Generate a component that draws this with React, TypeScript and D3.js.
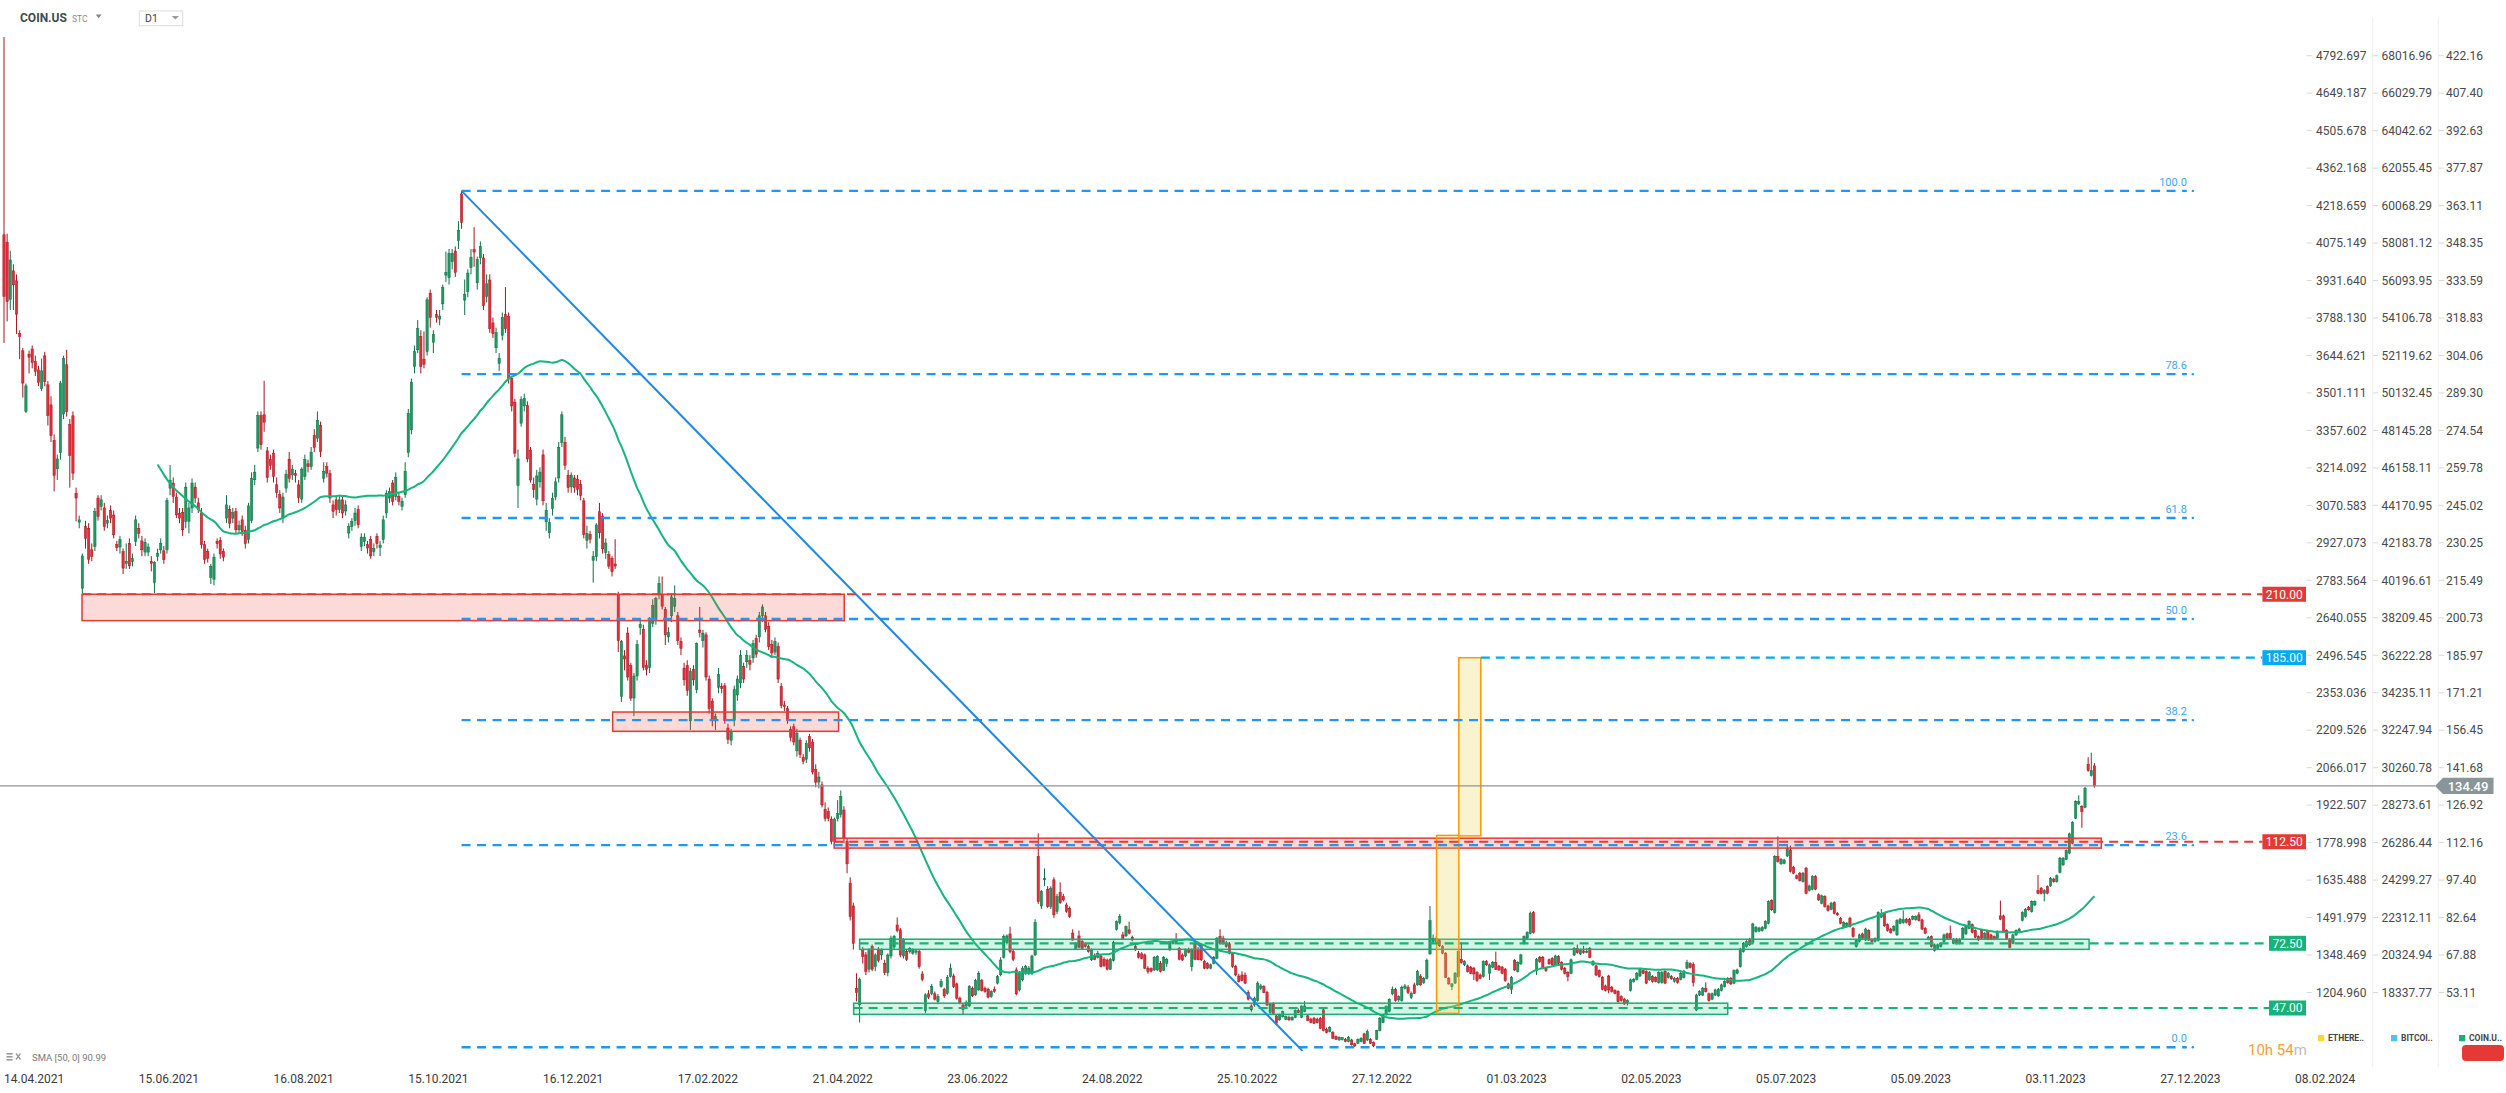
import React from 'react';
import * as d3 from 'd3';

const W = 2506;
const H = 1093;

// [open, high, low, close] daily candles, COIN.US D1
const candles: [number, number, number, number][] = [
[351.6,429.5,309,327.3],[348.7,352,317.5,325.3],[326.2,345.3,322,341.7],[337.4,340,322,331.9],[333.5,336,312.5,320.3],[312.7,314,302.6,311.5],[305.9,307,287.5,293.2],[282,293,281.4,292.1],[304.6,306,297,303.4],[306.6,308,299,301.3],
[301.6,304,296,297.8],[298.4,300,292,293.5],[291,302.8,290,298],[303.9,305.5,292,293.8],[292.5,294,276.5,280.4],[284.6,288,270,272.5],[270.6,273,250.5,256.8],[259.4,265,255,263.3],[265.8,294,263,293.2],[281,304,279,303],
[300.4,306.3,280,282],[276.8,279,252,264.7],[280.3,282,255,257.7],[249.8,252,238.7,247.9],[238.4,241,236,239.3],[212.4,226,210.4,225.1],[236.7,238.9,228,232],[236,238,222,223.8],[227.5,230,223,224.9],[228.8,244,227,242.6],
[247.9,249,239,240.6],[244.6,249,243,247.2],[244,246,235,236.7],[238,241,236,239],[243,245,238,240],[241.2,243,232,233.4],[229.5,231,227,228.4],[228.6,233,226,231.5],[226.8,228,218,220.3],[222.2,230,220,222.9],
[230.1,232,220,221.2],[222.9,226,221,224],[230.8,241,229,239.3],[236,238,232,234],[231,233,225,227.5],[226.6,232,225,230.4],[226.6,230,225,228.6],[222.9,225,219,222.2],[214.6,223,210.4,222.6],[224.9,228,223,226.2],
[227.5,232,226,230.1],[227.1,229,222,223.6],[227.5,248,226,247],[251.8,260.9,249,254.8],[253.8,256,246,248.5],[248.3,250,240,241.3],[241.9,244,238,240],[242.2,244,233,235.4],[238.7,254,236,252.2],[238.7,246,234,244],
[244,255.6,242,253.8],[252.2,254,246,247.9],[246,248,242,243.5],[242,244,228,229.5],[229.5,231,222,223.6],[226.8,228,222.5,224.2],[216.6,222,214,221],[215.9,226,213.5,224.6],[230.8,232,228,229.9],[231.2,232.5,224,225.9],
[226.8,228,223,224.6],[240,249,238,245.2],[243.3,245,236,238],[240,244,238,242.2],[242.6,244,234,235.4],[235.4,239,234,237],[239.3,241,233,234.7],[235.1,237,228,229.9],[231.5,246,230,244.8],[239,258,238,255.7],
[255.1,261,253,258.1],[267.6,282,266,280.4],[280.4,282,267,268.9],[280.7,294.1,274,277.8],[266.5,268,254,256],[263,265,259,260.8],[265.6,267,254,256.4],[253.1,256,248,250.1],[249.2,251,242,244],[240,250,238,248.3],
[251.8,259,250,257.3],[263.2,266,254,255.7],[257,261,255,259.3],[257.5,259,254,256.8],[253.1,255,246,248.2],[247.5,260,246,259.3],[256.4,265,255,263],[261.4,263,258,260.3],[260.3,268,259,266],[272.5,275,266,267.8],
[271.5,282,270,278.5],[276.6,278,264,266.2],[255.7,262,254,258.4],[260.3,262,256,257.7],[257.5,259,246,247.9],[245.2,247,240,242.6],[247.2,249,241,243.3],[243.3,249,242,247.2],[247.2,249,240,242],[242.8,247,241,245.2],
[234.1,238,232,236.7],[236.7,240,235,238.7],[239,244,237,242],[243.3,245,236,237.4],[228.8,234,227,232.5],[230.8,234,229,232.5],[229.5,231,226,228.2],[231.5,233,224,225.1],[226.8,230,225,228],[232.8,234,228,229.9],
[228.4,231,225,229.4],[231.5,241,230,239.3],[242,251,240,249.8],[247.9,252,246,250.5],[253.8,255,245,246.6],[248.5,258,247,256.1],[248.5,250,245,246.6],[244.6,248,243,246.6],[249.2,262,248,258.4],[265.8,283,264,281.3],
[274.8,295,273,293.6],[299.7,308,297,305.6],[306.3,318,305,314.6],[311.5,314,297,299.7],[302.6,313.5,299,300.6],[305.6,327,304,326],
[328.6,330,315,319.1],[309.3,314,305,312.4],[320.2,322,317,319.1],[318.4,322,316,319.6],[324.4,332,322,330.8],[335.7,345,333,336.8],[334.7,346,332,344.3],[341,346,338,344.3],[345.2,347,335,336.8],[349.3,357,346,353.4],
[367.7,368.9,354,356.4],[325.9,334,320,328.2],[329.2,338,327,336.5],[338.7,346,336,342.8],[345.8,354.6,339,344.8],[332.7,343,330,341.8],[342.5,349,340,347],[342.5,344,322,323.7],[327.4,336,325,332.3],[333.8,336,313,314.6],
[316.9,319,311,312.7],[307.1,315,305,313.1],[301,305,298,303],[312,321,310,319.1],[320.2,331,313,314.6],[319.6,321,293,295],[295,296,282,284.2],[285.7,287,264,265.6],[252.8,267,244,263.3],[277.4,288,276,286.7],
[284.2,289,282,287.2],[284.4,286,262,263.3],[266.8,268,254,255],[253.2,256,248,251.3],[247.5,259,245,256.6],[254.3,260,252,258.1],[264.9,267,245,246.8],[238.5,246,235,243],[234.2,240,232,238.2],[243.7,250,241,247.8],
[248.3,256,247,254.3],[255.8,270,254,267.9],[269.8,282,268,280.7],[269.8,272,259,260.8],[256.9,259,250,252],[252.3,258,250,256.9],[255.8,257,250,252],[255.4,257,249,251.3],[253.2,255,247,249],[246.8,248,232,233.6],
[231.2,237,228,233.9],[233.6,235,230,231.7],[223.4,227,214.6,224.9],[224.9,238,223,237.3],[242.5,246,232,234.2],[240.7,242,226,227.9],[226.4,232,224,230.2],[225.6,227,220,221.1],[224.1,225,217,218.9],[221.9,231.7,220,221.1],
[209.8,211,187.2,191.7],[169.8,192,167.5,191.4],[185.7,188,180,184.5],[194.7,197,176,177.4],[181.9,183,168,169.1],[169.1,179,162,177.8],[177.8,192,176,190.2],[196.9,199.5,194,198],[196.2,198,180,181.2],[181.9,184,178,180.4],
[181.2,201,179,200],[198.5,208,197,205.6],[200,209,198,208.3],[209.8,217,208,214.3],[209.8,217,204,205.3],[204.1,205,190,194],[193.2,197,191,195],[201.5,210,199,209],[205.3,213.5,203,208.3],[201.5,203,190,191.7],
[191.4,193,186,188.7],[180.9,183,174,176.3],[181.9,184,170,172.1],[160.1,181,156.5,179.7],[180.4,182,174,176.3],[172.4,191,171,190.5],[195.9,205,193,195],[191.7,196,189,194.7],[194,195,176,177.4],[176.6,178,163,164.9],
[167.9,169,158,160.3],[160.1,163,156.5,161.8],[173.3,181,171,178.4],[173.6,175,171,172.9],[173.9,175,159,160.3],[157.3,159,151,152.8],[152.5,157,150.5,155.8],[160.3,174,158,172.4],[170.3,178,168,176.6],[175.1,188,173,186],
[181.5,183,175,176.6],[183.4,188,181,186],[183.9,186,180,182.4],[184.9,192,183,190.5],[192.5,194,185,186.4],[193.2,203,191,201.5],[201.5,206,199,205],[201.5,203,195,196.2],[197.4,199,188,189.4],[190.2,192,185,186.9],
[187.2,193,186,191.4],[189.4,191,175,176.6],[173.6,175,165,166.1],[166.4,168,164,165.8],[164.9,166,159,160.3],[156.7,158,152,153.7],[157.8,159,150.5,151.8],[148.3,157,146,155.2],[152.5,153.5,145.5,146.8],[145.7,147,143,144.2],
[145,152.5,143.5,151.3],[154,155,148,149.5],[151.8,153,139,140],[141,143,134,136],[136,140,133.5,138],
[134.9,136.2,126,127],[125.3,128,120.5,121.7],[124.4,126,120.5,121.7],[121.4,122.5,111.5,112.6],[112.6,122,111.5,121.4],[121.7,128.9,120.5,123.6],[123.3,132.7,122,130.3],[125,126.5,112,113.9],[112.6,114,100.1,103.8],
[96.2,98.5,81.5,83],[87.2,88.5,70,72.5],[54.8,60.7,49.6,53.1],[48.2,59,41.3,58.3],[69.6,71,64.5,67.3],[67.9,69,60,61.4],[62.3,70.5,61,69.6],[71.2,72,61.5,62.3],[63.3,68.5,61.5,67.9],[69.9,71,65,65.7],
[67.9,70.5,66,69.9],[64.6,66,60,61],[61,68.5,59.5,67.9],[67.5,75.5,66.5,74.5],[71,75.8,70,75.2],[79.7,82.7,76.8,77.5],[77.8,78.5,67,67.9],[67.5,74.5,66.5,73.8],[69.2,70,65.5,66.2],[69.2,71,68.5,70.5],
[68.6,70.5,68,69.9],[69,70,68,69.5],[69.2,70,62.5,63.3],[60.4,61.5,57.5,58.3],[46,52.8,45,52.2],[52.6,54,50.5,51.3],[52.8,56.5,52,55.5],[52.6,53.5,50,50.5],[49.5,52.5,48.5,51.5],[55.5,58.5,55,57.4],
[54.4,55,51,51.8],[52.8,60,52.2,59.1],[59.4,64.5,59,62.7],[59.6,60.5,54.8,55.5],[56.5,57,50.3,50.9],[50.9,51.5,48.5,49.1],[48.2,49,44.3,46.5],[47.8,50,47,49.1],[47.8,56,47.3,55.5],[54.8,55.5,51.3,51.8],
[52.2,58.5,51.8,57.8],[54.1,61.5,53.8,60.7],[57.8,58.5,53.5,53.9],[54.8,55.5,53,53.5],[54.4,55,50.8,51.3],[51.5,54,51,53.5],[54.4,55.5,53,53.5],[56.8,60,56.3,59.4],[60.1,67,59.5,65.9],[67,76,66.5,75.2],
[72.8,76,72,75.4],[76.2,79,68.5,69.2],[69.2,70,65.5,66.2],[62,63,52,52.6],[54.1,61.5,53.5,61],[58.1,63.5,57.5,62.7],[60.7,64,60,63.3],[60.7,63.5,60,62.7],[60.7,68,60,67.5],[67.9,82,67.5,80.7],
[106.7,115.8,88,88.9],[87.2,93.5,86,92.9],[97.5,102,95,98.1],[93.8,95,86.5,87],[87,95,86,94.2],[97.5,98.5,82.5,83.7],[85,92,84,90.9],[92.5,96.5,88,88.5],[90.9,92,89,89.6],[87.6,88.5,84.5,85],
[86.3,87,82.5,83],[76.5,78,73.5,73.8],[70.5,73,70,72.3],[75.4,77.5,70.5,71],[73.2,74,70,70.5],[72.3,73,70.8,71.2],[71.2,72,68.8,69.2],[66,70.5,65.5,69.9],[67.5,68.5,65.8,66.2],[67,69.5,66.5,68.6],
[67.5,68,63,63.3],[66.2,67,63.2,63.6],[65.9,66.5,61.8,62.3],[62.3,66.8,62,66.2],[65.7,73.5,65.3,72.8],[78,81.5,77.5,81],[80.7,84,80,83],[75.8,77,74,74.5],[75.4,79.5,75,79.1],[77.8,81,76,76.5],
[74.9,75.5,73.3,73.8],[71.2,72,69.5,69.9],[68.6,69.5,66.5,67],[68.3,69,66.2,66.6],[67.9,68.5,62.3,62.7],[62.7,63.5,60.5,61.4],[62.5,63,61,61.5],[62,67.5,61.5,67],[62,67.8,61.5,67.3],[64.6,65.5,61,61.4],
[61.9,67.5,61.5,67],[64.6,66.8,63.2,66.2],[69.9,73.5,69.5,73.2],[72.5,73.7,72,73.2],[73.8,76.5,72.5,72.8],[70.5,71,65.8,66.2],[67.9,68.5,65.5,65.9],[67.5,70.5,67,70.2],[70,70.8,68.5,69],[63.3,70.5,61.5,69.9],
[72.3,73,65.8,66.2],[70,71,65.8,66],[71.9,72.5,65.5,66],[65.3,66,62.3,62.7],[64.5,65,62.3,62.7],[62.7,64.5,62.3,64],[64.6,67.5,64.2,67],[66.6,75,66.2,74.5],[75.2,78,72,72.5],[74.5,75.5,72,72.3],
[72.3,73.5,70.8,71.2],[72.3,73,68.2,68.6],[68.6,69,62.8,63.3],[63.3,64,59.5,60],[59.6,60.5,57,57.4],[60,61.5,57.5,57.8],[60,61,56.4,56.8],[53.1,54,50,50.5],[47.8,48.5,45.5,46.3],[48.2,51.5,47.5,50.9],
[50,57.5,49.5,56.8],[54.8,56.5,54,55.7],
[55.4,56,52.8,53.1],[53.1,53.8,47.8,48.2],[45.2,49,44.8,48.6],[48.6,49.3,44.5,44.9],[43.9,44.5,40.7,41],[42.3,44.8,42,44.3],[43.6,46,43.2,45.6],[42.6,44,42.2,43.6],
[43.3,44,42,42.3],[42.3,43.8,42,43.3],[43.3,46.5,43,46],[46,46.8,45,45.2],[43.3,48,43,47.8],[45.6,49.8,45.3,47.8],[43.9,44.5,41.8,42.1],[42.6,43.2,41,41.3],[43,43.5,40.7,41],[42.6,43.2,41,41.3],
[43,43.5,38.7,39],[46.3,47,37.8,38.1],[38.6,39.3,37,37.3],[37.7,39.8,37.4,39.4],[37.3,37.8,34.8,35.1],[35.7,36.2,34.4,34.7],[34.4,35.8,34.1,35.5],[34.5,35.6,34.2,35.3],[34.7,35.2,33.5,33.8],[33.8,36,33.5,35.5],
[34.4,34.9,32.2,32.5],[32.9,33.3,31.6,32.1],[33.1,35,32.8,34.7],[33.8,35.5,33.5,35.1],[36.8,37.2,32.8,33.1],[34.4,38.5,34,37.7],[34.7,35.2,32.8,33.1],[33.4,33.8,31.55,32.1],[34.7,38.4,34.4,38.1],[38.1,43.4,37.8,43],
[41.3,44.7,41,44.3],[44.3,48,44,47.6],[45.6,50.8,45.3,50.5],[52.6,55.5,52,54.4],[54.4,55,49.5,49.9],[50.2,52,49.5,51.5],[49.9,55.8,49.5,55.2],[54.8,56.5,54.3,55.7],[55.2,56,52.5,53.1],[51.2,53.5,50.5,52.8],
[56.1,57,52.5,52.8],[56.1,62,55.8,61.4],[59.6,60.3,55.8,56.1],[57,59.3,56.5,58.7],[58.7,66.5,58.3,65.7],[68.3,87.2,68,81.4],[73.2,76,72.5,74.5],[73,75.2,72.5,74.5],[73.6,74.2,71,71.5],[71.2,71.8,68.2,68.6],
[68.6,69,58.8,59.1],[58.7,59.2,56.2,56.5],[55.4,56.8,54,56.5],[56.8,61.2,56.5,60.7],[59.4,69.6,59,69.2],[66.2,73,64.5,64.9],[64,65.8,63.5,65.3],[63.6,64.2,61,61.4],[63.1,63.6,60.3,60.7],[62.7,63.2,58,60.4],
[61,61.5,57.3,57.8],[60,60.6,58.3,58.7],[59.4,65.8,59,65.3],[65.3,65.9,63.6,64],[60.7,64.5,58,64],[63.1,65.5,62.7,64.9],[64.9,69.2,62,62.3],[63.5,64,61.6,62],[63.1,63.6,60.3,60.7],[62.3,62.8,57.3,57.8],
[56.5,57,54.4,54.8],[54.4,59.6,52.5,59.1],[65.7,66.3,61.6,62],[61.4,65.4,61,64.9],[64.4,68.4,64,67.9],[72.5,75.6,72,75.1],[74.5,77.2,74,76.7],[76.4,85,76,84.3],[84.6,85.2,76.3,76.7],[61.7,66.7,60,66.2],
[67,67.5,64.8,65.3],[67,67.5,62.2,62.7],[62.7,63.2,61.2,61.7],[66,66.5,64,64.4],[66.6,67,63.5,64],[64,68,63.5,67.5],[67.3,67.8,64.2,64.6],[64.9,65.4,61.8,62.3],[62.7,63.2,60.2,60.7],[61,61.5,57.5,59.4],
[60.7,66.5,60.3,66],[67.9,71,67.5,70.5],[70.5,72,68.4,68.8],[68.3,70.4,67.9,69.9],[69.5,71.5,68.4,68.8],[69,70.6,68.6,69.3],[70.5,71,66.6,67],[64,65.8,63.6,65.3],[63.6,64.1,59.6,60],[61.7,62.2,59,59.4],
[59.1,59.6,54,54.4],[55.7,56.2,53.5,53.9],[59.6,60.1,52.8,54.1],[55.2,55.7,53.1,53.5],[53.9,54.4,52.4,52.8],[53.5,54,49.1,49.5],[51.5,52,49.5,49.9],[50.5,51,48.2,48.6],[49.1,50.4,48,49.9],[53.9,58.6,53.5,58.1],
[57.4,58.8,57,58.3],[58.3,61.2,57.9,60.7],[59.6,62.8,59.2,62.3],[61.7,62.2,60.3,60.7],[61.4,61.9,56.4,56.8],[58.1,61.5,57.7,61],[59.4,59.9,57,57.4],[59,59.5,57.1,57.5],[57,61.5,56.6,61],[57,61.5,56.6,61],
[61.4,61.9,56.4,56.8],[59,61.2,58.6,60.7],[59.5,60,58.1,58.5],[57.4,59.2,57,58.7],[58.7,59.2,56.6,57],[58.3,61.2,57.9,60.7],[59,62,58.6,61.5],[62.7,66,62.3,64.9],[64.5,65,62.6,63],[64.2,65,55.5,57],
[46.2,52.6,45.8,52.1],[52.1,54,51.7,53.5],[52.1,55.3,51.7,54.8],[54.8,57.1,53.1,53.5],[52.6,53.1,49.5,49.9],[50.5,53.1,50.1,52.6],[52.1,54.6,51.7,54.1],[51.8,54.9,51.4,54.4],[53.9,56.6,53.5,56.1],[55.5,57.9,55.1,57.4],
[58.7,59.2,56.6,57],[58.7,59.2,56.1,56.5],[56.8,62.2,56.4,61.7],[60.7,62.5,60.3,62],[63.3,70.7,62.9,70.2],[69.2,73,68.8,72.5],[71.2,73.7,70.8,73.2],[74.1,74.6,71.5,71.9],[72.8,80.6,72.4,80.1],[77.1,79.3,76.7,78.8],
[77.3,79,76.9,78.5],[77.5,79.3,77.1,78.8],[78.4,81.6,78,81.1],[80.4,89.4,80,88.9],[89.3,89.8,85.3,85.7],[84.6,107.2,84.2,106.7],[106.7,114.6,104.3,104.7],[103.8,106.1,103.4,105.6],[104,105.8,103.6,105.3],[106.9,110.9,106.5,109.9],
[109.3,111,100.4,100.8],[102.5,103,99.7,100.1],[99.1,99.6,97.7,98.1],[100.1,100.6,96.8,97.2],[96.8,100.6,96.4,100.1],[102.1,102.6,91.8,92.2],[93.3,95.6,92.9,95.1],[93.8,99.3,93.4,98.8],[98.8,99.3,93.4,93.8],[91.6,92.1,89.2,89.6],
[88.3,91.7,87.9,91.2],[90.9,91.4,86.6,87],[87.2,87.7,85,85.4],[85.9,88.8,85.5,88.3],[88.5,89,83.9,84.3],[84.3,84.8,83.3,83.7],[82.4,82.9,80,80.4],[79.1,81.2,78.7,80.7],[79.5,80.9,79.1,80.4],[82.4,82.9,78.7,79.1],
[78.4,78.9,74.7,75.1],[71.2,74.1,70.8,73.6],[73.2,76.3,72.8,75.8],[76.2,76.7,74.1,74.5],[73.8,78.6,73.4,78.1],[77.5,78,73.4,73.8],[74,74.5,72.8,73.2],[73.2,74.8,72.8,74.3],[73.6,85.1,73.2,84.6],[82.8,86,82.4,84.3],
[84.3,84.8,79,79.4],[79.8,80.3,77.1,77.5],[78.1,78.6,76.3,76.7],[77.5,79.6,77.1,79.1],[75.8,82,75.4,81.5],[80.4,82.5,80,82],[80.6,85.5,80.2,81.8],[82,82.5,80.3,80.7],[82,82.5,79.4,79.8],[82,83.5,81.6,83],
[81.8,83.5,81.4,83],[83.7,84.8,81.1,81.5],[81.7,82.2,77.7,78.1],[78.4,78.9,76.1,76.5],[74.1,75.4,73.7,74.9],[75.1,75.6,70.8,71.2],[69.6,72.4,69.2,71.9],[70.5,72.4,70.1,71.9],[71.2,73,70.8,72.5],[73.2,76.3,72.8,75.8],
[76.2,76.7,74.1,74.5],[76.4,79.5,74.1,74.5],[72.5,74.6,72.1,74.1],[74.1,74.6,72.1,72.5],[72.5,74.5,72.1,74],[74.5,78.9,74.1,78.4],[76.2,79.6,75.8,79.1],[78.4,81.6,78,81.1],[79.8,80.3,76.4,76.8],[77.5,78,74.5,74.9],
[75.1,75.6,73.4,73.8],[77.5,78,74.1,74.5],[74.5,76.9,74.1,76.4],[77.1,77.6,73.7,74.1],[75.8,76.3,73.7,74.1],[75.1,75.6,73.7,74.1],[74.5,77.6,74.1,77.1],[83.3,89.3,81.6,82],[83.3,83.8,76.7,77.1],[77.5,78,74.1,74.5],
[74.1,74.6,70.5,70.9],[72.5,76.3,72.1,75.8],[75.8,78,75.4,77.5],[76.8,78.6,76.4,78.1],[81.5,85.1,81.1,84.6],[83,86.4,82.6,85.9],[86.7,87.2,85.3,85.7],[85,89.4,84.6,88.9],[87.6,89.4,87.2,88.9],[93.3,99.4,91.8,92.2],
[94.2,94.7,91.8,92.2],[92.2,93.8,89,93.3],[94.8,95.3,91.8,92.2],[95.1,98.6,94.7,98.1],[97.8,98.3,96.4,96.8],[96.8,99.6,96.4,99.1],[100.4,106.5,100,106],[103.4,106.5,103,106],[105.6,109.5,105.2,109],[108,116.1,107.6,115.6],
[111.9,120.6,111.5,120.1],[121.8,128.8,121.4,128.3],[127.4,130.8,127,128.3],[126.4,126.9,118,124.4],[126.1,134.1,125.7,133.6],[143,145.8,140.1,140.5],[138.6,147.6,138.2,140.5],[142.4,143.5,133.8,134.49],
];

const dateLabels = ['14.04.2021','15.06.2021','16.08.2021','15.10.2021','16.12.2021','17.02.2022','21.04.2022','23.06.2022','24.08.2022','25.10.2022','27.12.2022','01.03.2023','02.05.2023','05.07.2023','05.09.2023','03.11.2023','27.12.2023','08.02.2024'];
const dateStep = 43;

const ethTicks = ['4792.697','4649.187','4505.678','4362.168','4218.659','4075.149','3931.640','3788.130','3644.621','3501.111','3357.602','3214.092','3070.583','2927.073','2783.564','2640.055','2496.545','2353.036','2209.526','2066.017','1922.507','1778.998','1635.488','1491.979','1348.469','1204.960'];
const btcTicks = ['68016.96','66029.79','64042.62','62055.45','60068.29','58081.12','56093.95','54106.78','52119.62','50132.45','48145.28','46158.11','44170.95','42183.78','40196.61','38209.45','36222.28','34235.11','32247.94','30260.78','28273.61','26286.44','24299.27','22312.11','20324.94','18337.77'];
const coinTicks = ['422.16','407.40','392.63','377.87','363.11','348.35','333.59','318.83','304.06','289.30','274.54','259.78','245.02','230.25','215.49','200.73','185.97','171.21','156.45','141.68','126.92','112.16','97.40','82.64','67.88','53.11'];

const fibRatios = [1, 0.786, 0.618, 0.5, 0.382, 0.236, 0];
const fibHigh = 368.9;
const fibLow = 31.55;
const fibStartSlot = 146;
const fibEndSlot = 698.4;

const trendPoints: [number, number][] = [[146, 368.9], [414.3, 30.1]];

const zones = [
  { from: 24.9, to: 268.1, top: 210, bottom: 199.6, kind: 'red' },
  { from: 194.2, to: 266.3, top: 163.6, bottom: 156, kind: 'red' },
  { from: 264.9, to: 669.2, top: 113.9, bottom: 110, kind: 'red' },
  { from: 273, to: 665.3, top: 74.1, bottom: 70.1, kind: 'green' },
  { from: 271.1, to: 550, top: 48.9, bottom: 44.5, kind: 'green' },
  { from: 457.1, to: 464.2, top: 115, bottom: 44.9, kind: 'yellow' },
  { from: 464.2, to: 471.2, top: 185, bottom: 114.8, kind: 'yellow' },
];

const levels = [
  { price: 210, from: 24.9, color: '#E53935', label: '210.00' },
  { price: 185, from: 471.2, color: '#03A9F4', label: '185.00' },
  { price: 112.5, from: 264.9, color: '#E53935', label: '112.50' },
  { price: 72.5, from: 273, color: '#16B277', label: '72.50' },
  { price: 47, from: 271.1, color: '#16B277', label: '47.00' },
];

const lastPrice = 134.49;
const smaPeriod = 50;

const FONT = 'Roboto, "Noto Sans", Arial, sans-serif';

export default function App() {
  const x = d3.scaleLinear().domain([0, 731]).range([4, 2295]);
  const y = d3.scaleLinear().domain([53.11, 422.16]).range([992.5, 55.7]);

  const closes = candles.map((c) => c[3]);
  const sma: [number, number][] = [];
  for (let i = smaPeriod - 1; i < closes.length; i++) {
    sma.push([i, d3.mean(closes.slice(i - smaPeriod + 1, i + 1)) as number]);
  }
  const smaPath = d3.line<[number, number]>().x((d) => x(d[0])).y((d) => y(d[1])).curve(d3.curveMonotoneX)(sma) || '';

  const axisRight = 2306;
  const bodyW = 2.3;

  const zoneStyle: Record<string, { fill: string; stroke: string }> = {
    red: { fill: 'rgba(235,70,60,0.2)', stroke: '#E53935' },
    green: { fill: 'rgba(30,190,130,0.18)', stroke: '#19AD75' },
    yellow: { fill: 'rgba(235,210,80,0.27)', stroke: '#FF9800' },
  };

  return (
    <svg width={W} height={H} style={{ position: 'absolute', left: 0, top: 0, background: '#fff' }} fontFamily={FONT}>
      <rect x={0} y={0} width={W} height={H} fill="#fff" />

      {/* axis separators */}
      <line x1={2372.7} x2={2372.7} y1={18} y2={1067} stroke="#eeeeee" strokeWidth={1} />
      <line x1={2438.3} x2={2438.3} y1={18} y2={1067} stroke="#eeeeee" strokeWidth={1} />

      {/* candles */}
      <g>
        {candles.map((c, i) => {
          const [o, h, l, cl] = c;
          const up = cl >= o;
          const cx = x(i);
          const top = y(Math.max(o, cl));
          const bot = y(Math.min(o, cl));
          const stroke = up ? '#0f6f45' : '#a3161f';
          const fill = up ? '#1f9b62' : '#e22f3b';
          return (
            <g key={i}>
              <line x1={cx} x2={cx} y1={y(h)} y2={y(l)} stroke={stroke} strokeWidth={1} />
              <rect x={cx - bodyW / 2} y={top} width={bodyW} height={Math.max(1, bot - top)} fill={fill} stroke={stroke} strokeWidth={0.5} />
            </g>
          );
        })}
      </g>

      {/* SMA 50 */}
      <path d={smaPath} fill="none" stroke="#14b67b" strokeWidth={2} />

      {/* zones */}
      {zones.map((z, i) => {
        const s = zoneStyle[z.kind];
        return (
          <rect key={i} x={x(z.from)} y={y(z.top)} width={x(z.to) - x(z.from)} height={y(z.bottom) - y(z.top)} fill={s.fill} stroke={s.stroke} strokeWidth={1.5} />
        );
      })}

      {/* fib retracement */}
      {fibRatios.map((r, i) => {
        const p = fibLow + r * (fibHigh - fibLow);
        const yy = y(p);
        return (
          <g key={i}>
            <line x1={x(fibStartSlot)} x2={x(fibEndSlot) - 6} y1={yy} y2={yy} stroke="#2196F3" strokeWidth={2.4} strokeDasharray="9,6.5" />
            <circle cx={x(fibEndSlot)} cy={yy} r={1.2} fill="#2196F3" />
            <text x={x(fibEndSlot) - 6} y={yy - 5} fontSize={11} fill="#42A5F5" textAnchor="end">{(r * 100).toFixed(1)}</text>
          </g>
        );
      })}

      {/* trend line */}
      <line x1={x(trendPoints[0][0])} y1={y(trendPoints[0][1])} x2={x(trendPoints[1][0])} y2={y(trendPoints[1][1])} stroke="#1E88E5" strokeWidth={2} />

      {/* horizontal levels */}
      {levels.map((lv, i) => {
        const yy = y(lv.price);
        const w = lv.label.length * 6.6 + 4;
        return (
          <g key={i}>
            <line x1={x(lv.from)} x2={axisRight - w} y1={yy} y2={yy} stroke={lv.color} strokeWidth={2.2} strokeDasharray="9,6" />
            <rect x={axisRight - w} y={yy - 7.5} width={w} height={15} fill={lv.color} />
            <text x={axisRight - w / 2} y={yy + 4.3} fontSize={12} fill="#fff" textAnchor="middle">{lv.label}</text>
          </g>
        );
      })}

      {/* last price line */}
      <line x1={0} x2={2435} y1={y(lastPrice)} y2={y(lastPrice)} stroke="#8d959a" strokeWidth={1.2} />
      <path d={`M2435,${y(lastPrice)} L2443,${y(lastPrice) - 8.2} L2493.5,${y(lastPrice) - 8.2} L2493.5,${y(lastPrice) + 8.2} L2443,${y(lastPrice) + 8.2} Z`} fill="#8a9499" />
      <text x={2468} y={y(lastPrice) + 4.6} fontSize={13} fontWeight={500} fill="#fff" textAnchor="middle">{lastPrice.toFixed(2)}</text>

      {/* right axes */}
      {coinTicks.map((t, i) => {
        const yy = y(parseFloat(t));
        return (
          <g key={i} fontSize={12} fill="#4a4a4a">
            <line x1={2306.7} x2={2311.7} y1={yy} y2={yy} stroke="#d8d8d8" />
            <line x1={2373} x2={2378} y1={yy} y2={yy} stroke="#d8d8d8" />
            <line x1={2439} x2={2444} y1={yy} y2={yy} stroke="#d8d8d8" />
            <text x={2316} y={yy + 4.3}>{ethTicks[i]}</text>
            <text x={2381.5} y={yy + 4.3}>{btcTicks[i]}</text>
            <text x={2446} y={yy + 4.3}>{t}</text>
          </g>
        );
      })}

      {/* x axis labels */}
      {dateLabels.map((d, i) => (
        <text key={d} x={x(i * dateStep)} y={1083} fontSize={12} fill="#3a3a3a">{d}</text>
      ))}

      {/* header */}
      <text x={20} y={21.5} fontSize={12} fontWeight={700} fill="#3d4a52">COIN.US</text>
      <text x={72} y={21.5} fontSize={8.5} fill="#8a8a8a">STC</text>
      <path d="M95.7,14.5 L101.7,14.5 L98.7,18.2 Z" fill="#8a8a8a" />
      <rect x={139.3} y={11} width={43.4} height={14.7} fill="#fff" stroke="#dcdcdc" />
      <text x={145} y={22.3} fontSize={10.5} fill="#444">D1</text>
      <path d="M171.7,16 L179,16 L175.35,19.5 Z" fill="#9a9a9a" />

      {/* SMA legend */}
      <g fill="#9a9a9a">
        <rect x={6.5} y={1053} width={6} height={1.6} />
        <rect x={6.5} y={1056} width={6} height={1.6} />
        <rect x={6.5} y={1059} width={6} height={1.6} />
        <path d="M16,1053.5 L20.5,1059.5 M20.5,1053.5 L16,1059.5" stroke="#9a9a9a" strokeWidth={1.3} />
      </g>
      <text x={32} y={1061} fontSize={9.5} fill="#7a7a7a">SMA [50, 0] 90.99</text>

      {/* timer */}
      <text x={2248} y={1054.5} fontSize={15}>
        <tspan fill="#F7A035">10h </tspan>
        <tspan fill="#F7A035">54</tspan>
        <tspan fill="#bdbdbd">m</tspan>
      </text>

      {/* bottom legend */}
      <rect x={2318} y={1035} width={6.3} height={6.3} fill="#FDD835" />
      <text x={2328} y={1041} fontSize={8.5} fontWeight={700} fill="#444">ETHERE..</text>
      <rect x={2391} y={1035} width={6.3} height={6.3} fill="#4FC3F7" />
      <text x={2401} y={1041} fontSize={8.5} fontWeight={700} fill="#444">BITCOI..</text>
      <rect x={2459} y={1035} width={6.3} height={6.3} fill="#16B277" />
      <text x={2469} y={1041} fontSize={8.5} fontWeight={700} fill="#444">COIN.U..</text>
      <rect x={2462} y={1045} width={42} height={16} rx={4} fill="#E53935" />
    </svg>
  );
}
